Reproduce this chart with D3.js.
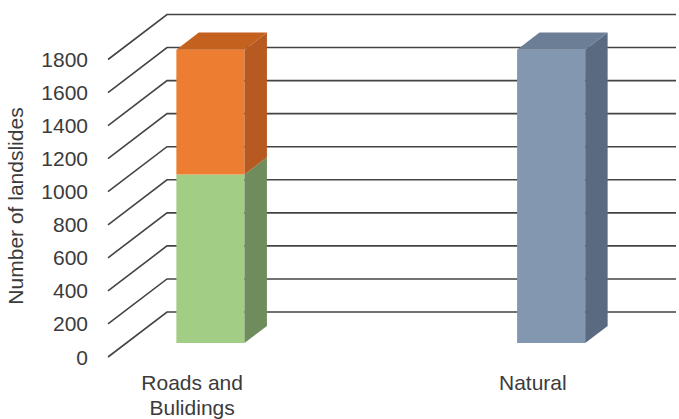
<!DOCTYPE html>
<html>
<head>
<meta charset="utf-8">
<script src="https://cdn.jsdelivr.net/npm/d3@7"></script>
<style>
  html, body { margin: 0; padding: 0; background: #ffffff; }
  svg { display: block; }
  text { font-family: "Liberation Sans", Arial, sans-serif; fill: #3b3b3b; }
</style>
</head>
<body>
<svg id="chart" width="679" height="419"></svg>
<script>
// Landslide counts by cause, drawn as 3D stacked columns
const categories = ["Roads and Bulidings", "Natural"];
const categoryLines = [["Roads and", "Bulidings"], ["Natural"]];
const roads = [1020, 0];
const buildings = [755, 0];
const natural = [0, 1775];
const tickValues = [0, 200, 400, 600, 800, 1000, 1200, 1400, 1600, 1800];
const axisTitle = "Number of landslides";

const series = [
  { values: roads, front: "#a2cd84", side: "#6f8c5c", top: "#86ab6c" },
  { values: buildings, front: "#ed7d31", side: "#b65a21", top: "#c4611f" },
  { values: natural, front: "#8497b0", side: "#5a6a80", top: "#6c7d96" }
];

const svg = d3.select("#chart");

// oblique depth of the floor and the bar slab inside it
const DEPTH_X = 59, DEPTH_Y = 45;
const barNear = 0.31, barFar = 0.69;

const y = d3.scaleLinear().domain([0, 1800]).range([357, 59.5]);
const x = d3.scaleBand().domain(categories).range([124, 601])
  .paddingInner(0.8).paddingOuter(0.1);

const frontX = 108;
const proj = (px, v, f) => [px + f * DEPTH_X, y(v) - f * DEPTH_Y];

// gridlines: diagonal floor-to-wall run, then along the back wall
const grid = svg.append("g");
tickValues.forEach(v => {
  const a = proj(frontX, v, 0), b = proj(frontX, v, 1);
  grid.append("path")
    .attr("d", `M${a[0]},${a[1]}L${b[0]},${b[1]}L676,${b[1]}`)
    .attr("fill", "none")
    .attr("stroke", "#444444")
    .attr("stroke-width", 1.6);
});

// tick labels
svg.append("g").selectAll("text").data(tickValues).join("text")
  .attr("x", 88)
  .attr("y", d => y(d) + 7.5)
  .attr("text-anchor", "end")
  .style("font-size", "21px")
  .text(d => d);

// axis title
svg.append("text")
  .attr("transform", "translate(23,206) rotate(-90)")
  .attr("text-anchor", "middle")
  .style("font-size", "21px")
  .text(axisTitle);

// 3D columns
const bars = svg.append("g");
const poly = pts => "M" + pts.map(p => p.join(",")).join("L") + "Z";
categories.forEach((cat, i) => {
  const x0 = x(cat), x1 = x(cat) + x.bandwidth();
  let base = 0;
  const segs = series.filter(s => s.values[i] > 0);
  segs.forEach((s, k) => {
    const v0 = base, v1 = base + s.values[i];
    base = v1;
    // front face
    bars.append("path")
      .attr("d", poly([proj(x0, v0, barNear), proj(x1, v0, barNear), proj(x1, v1, barNear), proj(x0, v1, barNear)]))
      .attr("fill", s.front);
    // right side face
    bars.append("path")
      .attr("d", poly([proj(x1, v0, barNear), proj(x1, v0, barFar), proj(x1, v1, barFar), proj(x1, v1, barNear)]))
      .attr("fill", s.side);
    // top face of the highest segment
    if (k === segs.length - 1) {
      bars.append("path")
        .attr("d", poly([proj(x0, v1, barNear), proj(x1, v1, barNear), proj(x1, v1, barFar), proj(x0, v1, barFar)]))
        .attr("fill", s.top);
    }
  });
});

// category labels
const cats = svg.append("g");
categories.forEach((cat, i) => {
  const cx = x(cat) + x.bandwidth() / 2;
  categoryLines[i].forEach((line, j) => {
    cats.append("text")
      .attr("x", cx)
      .attr("y", 390 + j * 25)
      .attr("text-anchor", "middle")
      .style("font-size", "21px")
      .text(line);
  });
});
</script>
</body>
</html>
